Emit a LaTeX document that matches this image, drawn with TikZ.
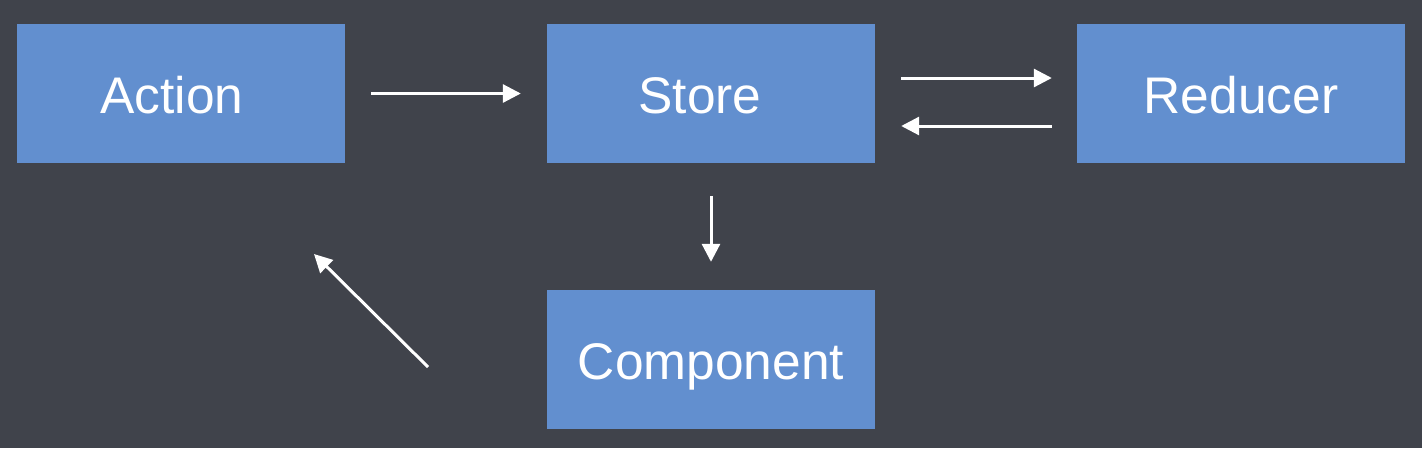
\documentclass[tikz,border=0pt]{standalone}
\usepackage{fontspec}
\setmainfont{Liberation Sans}
\usetikzlibrary{arrows.meta}
\definecolor{bg}{HTML}{40434B}
\definecolor{boxblue}{HTML}{628FCF}
\begin{document}
\begin{tikzpicture}[x=1pt,y=-1pt,
  box/.style={fill=boxblue, draw=none, minimum width=328pt, minimum height=139pt, inner sep=0pt, text height=40pt, text depth=0pt, text=white, font=\fontsize{51.5}{60}\selectfont},
  conn/.style={draw=white, line width=3pt, -{Triangle[length=18pt,width=18pt]}}]
\fill[bg] (0,0) rectangle (1422,448);
\useasboundingbox (0,0) rectangle (1422,448);
\node[box] (action) at (181,93.5) {Action\hspace*{18pt}};
\node[box] (store) at (711,93.5) {Store\hspace*{22pt}};
\node[box] (reducer) at (1241,93.5) {Reducer};
\node[box] (component) at (711,359.5) {Component};
\coordinate (cstart) at (428,367);
\coordinate (aend) at (314,254);
\draw[conn, shorten <=26pt, shorten >=26pt] (action.east) -- (store.west);
\draw[conn, shorten <=26pt, shorten >=25pt] ([yshift=15.5pt]store.east) -- ([yshift=15.5pt]reducer.west);
\draw[conn, shorten <=25pt, shorten >=26pt] ([yshift=-32.5pt]reducer.west) -- ([yshift=-32.5pt]store.east);
\draw[conn, shorten <=33pt, shorten >=28pt] (store.south) -- (component.north);
\draw[conn] (cstart) -- (aend);
\end{tikzpicture}
\end{document}
